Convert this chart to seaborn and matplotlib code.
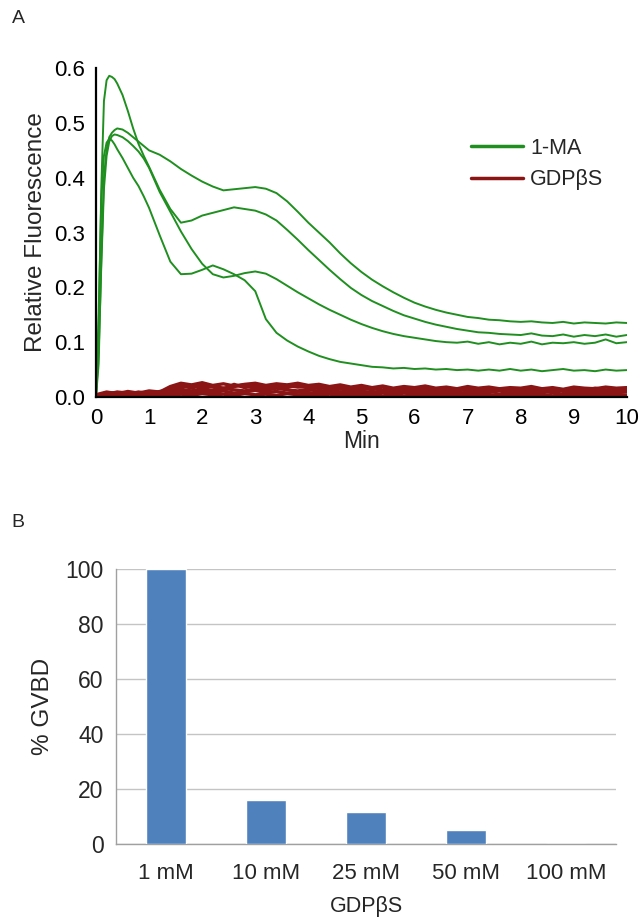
import matplotlib.pyplot as plt
import seaborn as sns
import pandas as pd
from matplotlib.ticker import FormatStrFormatter, FixedLocator

# ---- panel A: fluorescence traces ----
TIME = [0.0, 0.05, 0.1, 0.15, 0.2, 0.25, 0.3, 0.35, 0.4, 0.5, 0.6, 0.7, 0.8, 0.9, 1.0,
        1.2, 1.4, 1.6, 1.8, 2.0, 2.2, 2.4, 2.6, 2.8, 3.0,
        3.2, 3.4, 3.6, 3.8, 4.0, 4.2, 4.4, 4.6, 4.8, 5.0,
        5.2, 5.4, 5.6, 5.8, 6.0, 6.2, 6.4, 6.6, 6.8, 7.0,
        7.2, 7.4, 7.6, 7.8, 8.0, 8.2, 8.4, 8.6, 8.8, 9.0,
        9.2, 9.4, 9.6, 9.8, 10.0]

ma_peak = [0.0, 0.12, 0.38, 0.54, 0.578, 0.586, 0.584, 0.580, 0.572, 0.551, 0.522, 0.490, 0.462, 0.440, 0.420,
           0.378, 0.343, 0.318, 0.322, 0.331, 0.336, 0.341, 0.346, 0.343, 0.340,
           0.333, 0.322, 0.305, 0.287, 0.268, 0.250, 0.232, 0.215, 0.199, 0.186,
           0.175, 0.166, 0.157, 0.149, 0.143, 0.137, 0.132, 0.128, 0.124, 0.121,
           0.118, 0.117, 0.115, 0.114, 0.113, 0.116, 0.112, 0.111, 0.114, 0.110,
           0.113, 0.111, 0.114, 0.110, 0.113]

ma_top = [0.0, 0.06, 0.25, 0.40, 0.452, 0.474, 0.482, 0.487, 0.490, 0.488, 0.482, 0.474, 0.466, 0.458, 0.450,
          0.442, 0.430, 0.416, 0.404, 0.393, 0.384, 0.377, 0.379, 0.381, 0.383,
          0.380, 0.372, 0.357, 0.338, 0.318, 0.300, 0.282, 0.262, 0.244, 0.228,
          0.214, 0.202, 0.191, 0.181, 0.172, 0.165, 0.159, 0.154, 0.150, 0.146,
          0.144, 0.141, 0.140, 0.138, 0.137, 0.138, 0.136, 0.135, 0.137, 0.134,
          0.136, 0.135, 0.134, 0.136, 0.135]

ma_mid = [0.0, 0.08, 0.24, 0.38, 0.44, 0.466, 0.476, 0.479, 0.478, 0.474, 0.467, 0.458, 0.448, 0.435, 0.418,
          0.374, 0.338, 0.302, 0.270, 0.243, 0.224, 0.218, 0.221, 0.226, 0.229,
          0.225, 0.215, 0.203, 0.191, 0.180, 0.169, 0.159, 0.150, 0.141, 0.133,
          0.126, 0.120, 0.115, 0.111, 0.108, 0.105, 0.102, 0.100, 0.099, 0.101,
          0.097, 0.100, 0.096, 0.099, 0.097, 0.101, 0.096, 0.099, 0.098, 0.100,
          0.097, 0.099, 0.105, 0.098, 0.100]

ma_low = [0.0, 0.15, 0.36, 0.44, 0.464, 0.471, 0.468, 0.461, 0.452, 0.436, 0.418, 0.400, 0.385, 0.366, 0.345,
          0.295, 0.247, 0.224, 0.225, 0.232, 0.240, 0.233, 0.224, 0.213, 0.193,
          0.142, 0.117, 0.103, 0.092, 0.083, 0.075, 0.069, 0.064, 0.061, 0.058,
          0.055, 0.054, 0.052, 0.053, 0.051, 0.052, 0.050, 0.051, 0.049, 0.050,
          0.048, 0.050, 0.048, 0.051, 0.048, 0.050, 0.047, 0.049, 0.051, 0.048,
          0.049, 0.047, 0.050, 0.048, 0.049]

RED_TIME = [0.0, 0.2, 0.4, 0.6, 0.8, 1.0, 1.2, 1.4, 1.6, 1.8,
            2.0, 2.2, 2.4, 2.6, 2.8, 3.0, 3.2, 3.4, 3.6, 3.8,
            4.0, 4.2, 4.4, 4.6, 4.8, 5.0, 5.2, 5.4, 5.6, 5.8,
            6.0, 6.2, 6.4, 6.6, 6.8, 7.0, 7.2, 7.4, 7.6, 7.8,
            8.0, 8.2, 8.4, 8.6, 8.8, 9.0, 9.2, 9.4, 9.6, 9.8,
            10.0]

gdp_1 = [0.004, 0.009, 0.006, 0.010, 0.007, 0.011, 0.009, 0.019, 0.025, 0.022,
         0.026, 0.021, 0.024, 0.020, 0.023, 0.025, 0.021, 0.024, 0.022, 0.025,
         0.021, 0.023, 0.019, 0.022, 0.018, 0.021, 0.017, 0.020, 0.016, 0.019,
         0.017, 0.020, 0.016, 0.018, 0.015, 0.019, 0.016, 0.018, 0.015, 0.017,
         0.016, 0.019, 0.015, 0.017, 0.014, 0.018, 0.016, 0.015, 0.018, 0.016,
         0.017]
gdp_2 = [0.002, 0.006, 0.008, 0.005, 0.009, 0.006, 0.010, 0.012, 0.018, 0.021,
         0.017, 0.020, 0.016, 0.019, 0.022, 0.018, 0.020, 0.017, 0.021, 0.018,
         0.019, 0.015, 0.018, 0.014, 0.017, 0.013, 0.016, 0.012, 0.015, 0.013,
         0.014, 0.011, 0.015, 0.012, 0.014, 0.011, 0.013, 0.010, 0.014, 0.012,
         0.013, 0.010, 0.014, 0.011, 0.013, 0.012, 0.010, 0.013, 0.011, 0.014,
         0.012]
gdp_3 = [0.001, 0.004, 0.003, 0.006, 0.004, 0.007, 0.005, 0.008, 0.014, 0.011,
         0.015, 0.012, 0.016, 0.013, 0.011, 0.015, 0.012, 0.016, 0.013, 0.011,
         0.014, 0.010, 0.013, 0.009, 0.012, 0.010, 0.008, 0.011, 0.009, 0.012,
         0.008, 0.010, 0.007, 0.011, 0.009, 0.006, 0.010, 0.008, 0.011, 0.007,
         0.009, 0.006, 0.010, 0.008, 0.005, 0.009, 0.007, 0.010, 0.006, 0.008,
         0.009]
gdp_4 = [0.000, 0.003, 0.002, 0.004, 0.003, 0.005, 0.004, 0.006, 0.009, 0.007,
         0.010, 0.008, 0.011, 0.007, 0.009, 0.012, 0.008, 0.010, 0.007, 0.009,
         0.008, 0.006, 0.009, 0.005, 0.008, 0.006, 0.004, 0.007, 0.005, 0.008,
         0.004, 0.006, 0.003, 0.007, 0.005, 0.004, 0.006, 0.003, 0.005, 0.004,
         0.006, 0.003, 0.005, 0.002, 0.004, 0.006, 0.003, 0.005, 0.002, 0.004,
         0.003]
gdp_5 = [0.000, 0.002, 0.001, 0.003, 0.001, 0.002, 0.003, 0.002, 0.005, 0.003,
         0.006, 0.004, 0.005, 0.003, 0.006, 0.004, 0.005, 0.003, 0.006, 0.004,
         0.004, 0.002, 0.005, 0.003, 0.004, 0.002, 0.003, 0.001, 0.004, 0.002,
         0.003, 0.001, 0.002, 0.004, 0.001, 0.003, 0.002, 0.001, 0.003, 0.002,
         0.001, 0.003, 0.002, 0.001, 0.003, 0.001, 0.002, 0.003, 0.001, 0.002,
         0.002]
gdp_6 = [0.003, 0.005, 0.009, 0.007, 0.005, 0.009, 0.007, 0.015, 0.021, 0.016,
         0.022, 0.018, 0.014, 0.023, 0.017, 0.021, 0.015, 0.022, 0.017, 0.023,
         0.016, 0.020, 0.014, 0.019, 0.015, 0.017, 0.013, 0.018, 0.012, 0.016,
         0.012, 0.016, 0.011, 0.015, 0.012, 0.016, 0.011, 0.014, 0.012, 0.015,
         0.011, 0.015, 0.012, 0.016, 0.010, 0.014, 0.012, 0.016, 0.013, 0.011,
         0.014]

# ---- panel B: % GVBD ----
CONC = ["1 mM", "10 mM", "25 mM", "50 mM", "100 mM"]
GVBD = [100, 16, 11.5, 5, 0]

GREEN = "#1f8f1f"
RED = "#8b1414"
BLUE = "#4f81bd"


def traceFrame() -> pd.DataFrame:
    rows = []
    for i, ys in enumerate([ma_peak, ma_top, ma_mid, ma_low]):
        for t, y in zip(TIME, ys):
            rows.append(("1-MA", "ma%d" % i, t, y))
    for i, ys in enumerate([gdp_1, gdp_2, gdp_3, gdp_4, gdp_5, gdp_6]):
        for t, y in zip(RED_TIME, ys):
            rows.append(("GDPβS", "gdp%d" % i, t, y))
    return pd.DataFrame(rows, columns=["Treatment", "Trace", "Min", "Fluor"])


def panelA(ax):
    df = traceFrame()
    sns.lineplot(data=df[df.Treatment == "1-MA"], x="Min", y="Fluor", hue="Treatment",
                 units="Trace", estimator=None, palette={"1-MA": GREEN}, lw=1.4, ax=ax)
    sns.lineplot(data=df[df.Treatment == "GDPβS"], x="Min", y="Fluor", hue="Treatment",
                 units="Trace", estimator=None, palette={"GDPβS": RED}, lw=2.4, ax=ax)
    ax.set_xlim(0, 10)
    ax.set_ylim(0, 0.6)
    ax.set_xticks(range(0, 11))
    ax.set_yticks([0, 0.1, 0.2, 0.3, 0.4, 0.5, 0.6])
    ax.yaxis.set_major_formatter(FormatStrFormatter("%.1f"))
    ax.tick_params(direction="out", length=5, width=1.4, labelsize=16, colors="black", pad=3)
    for s in ["left", "bottom"]:
        ax.spines[s].set_color("black")
        ax.spines[s].set_linewidth(1.6)
    sns.despine(ax=ax)
    ax.set_xlabel("Min", fontsize=16.5, labelpad=1)
    ax.set_ylabel("Relative Fluorescence", fontsize=17.5, labelpad=5)
    handles, labels = ax.get_legend_handles_labels()
    leg = ax.legend(handles, labels, loc="upper left", bbox_to_anchor=(0.69, 0.815),
                    frameon=False, fontsize=15.5, handlelength=2.4, handletextpad=0.35,
                    labelspacing=0.5, borderaxespad=0)
    for line in leg.get_lines():
        line.set_linewidth(2.5)


def panelB(ax):
    sns.barplot(x=CONC, y=GVBD, color=BLUE, width=0.4, saturation=1, ax=ax, zorder=3)
    ax.set_ylim(0, 100)
    ax.set_xlim(-0.5, 4.5)
    ax.set_yticks([0, 20, 40, 60, 80, 100])
    ax.yaxis.grid(True, color="#c4c4c4", lw=1)
    ax.set_axisbelow(True)
    for s in ["left", "bottom"]:
        ax.spines[s].set_color("#a0a0a0")
        ax.spines[s].set_linewidth(1)
    sns.despine(ax=ax)
    ax.xaxis.set_minor_locator(FixedLocator([-0.5, 0.5, 1.5, 2.5, 3.5, 4.5]))
    ax.tick_params(axis="x", which="major", length=0, labelsize=16, pad=14)
    ax.tick_params(axis="x", which="minor", length=5, color="#a0a0a0", direction="out")
    ax.tick_params(axis="y", length=4, color="#a0a0a0", direction="out", labelsize=16.5, pad=5)
    ax.set_xlabel("GDPβS", fontsize=15.5, labelpad=8)
    ax.set_ylabel("% GVBD", fontsize=17.5, labelpad=8)


def main():
    sns.set_style("white")
    plt.rcParams["font.family"] = ["Liberation Sans", "DejaVu Sans"]
    fig = plt.figure(figsize=(6.42, 9.21), dpi=100)
    axA = fig.add_axes([0.1495, 0.569, 0.827, 0.357])
    axB = fig.add_axes([0.1807, 0.0836, 0.779, 0.2986])
    panelA(axA)
    panelB(axB)
    fig.text(0.018, 0.980, "A", fontsize=14, va="center")
    fig.text(0.018, 0.433, "B", fontsize=14, va="center")
    plt.savefig("out.png", dpi=100)


if __name__ == "__main__":
    main()
